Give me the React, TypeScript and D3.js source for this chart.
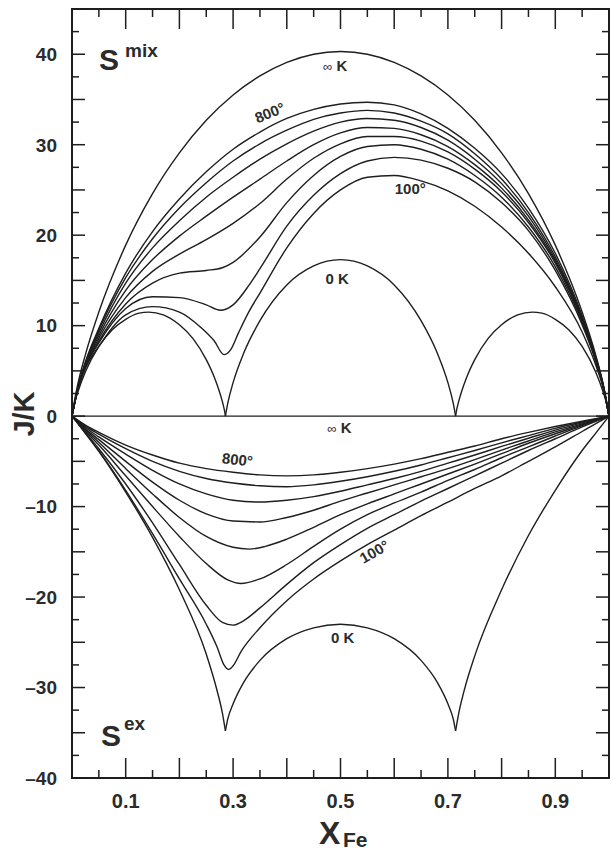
import React from "react";
import * as d3 from "d3";

type P = [number, number];

// tick labels
const xTickLabels = [0.1, 0.3, 0.5, 0.7, 0.9];
const yTickLabels = [40, 30, 20, 10, 0, -10, -20, -30, -40];

// ---------- S mix (upper panel) ----------
const mixInf: P[] = [[0,0],[0.005,1.8],[0.01,3.3],[0.025,6.8],[0.05,11.5],[0.1,18.9],[0.15,24.6],[0.2,29.1],[0.25,32.7],[0.3,35.5],[0.35,37.6],[0.4,39.1],[0.45,40.0],[0.5,40.3],[0.55,40.0],[0.6,39.1],[0.65,37.6],[0.7,35.5],[0.75,32.7],[0.8,29.1],[0.85,24.6],[0.9,18.9],[0.95,11.5],[0.975,6.8],[0.99,3.3],[0.995,1.8],[1,0]];
const mix800: P[] = [[0,0],[0.01,2.95],[0.025,6.0],[0.05,9.7],[0.1,15.8],[0.15,20.4],[0.2,24.0],[0.25,27.0],[0.3,29.5],[0.35,31.4],[0.4,32.9],[0.45,33.9],[0.5,34.5],[0.55,34.7],[0.6,34.4],[0.65,33.4],[0.7,31.8],[0.75,29.6],[0.8,26.8],[0.85,23.0],[0.9,18.0],[0.95,11.1],[0.975,6.6],[0.99,3.2],[1,0]];
const mix700: P[] = [[0,0],[0.01,2.9],[0.025,5.9],[0.05,9.5],[0.1,15.3],[0.15,19.6],[0.2,23.0],[0.25,25.8],[0.3,28.2],[0.35,30.1],[0.4,31.6],[0.45,32.8],[0.5,33.5],[0.55,33.8],[0.6,33.5],[0.65,32.6],[0.7,31.2],[0.75,29.0],[0.8,26.2],[0.85,22.5],[0.9,17.6],[0.95,10.9],[0.975,6.5],[0.99,3.2],[1,0]];
const mix600: P[] = [[0,0],[0.01,2.9],[0.025,5.8],[0.05,9.2],[0.1,14.7],[0.15,18.6],[0.2,21.6],[0.25,24.2],[0.3,26.4],[0.35,28.4],[0.4,30.1],[0.45,31.5],[0.5,32.5],[0.55,32.9],[0.6,32.7],[0.65,31.9],[0.7,30.5],[0.75,28.4],[0.8,25.7],[0.85,22.1],[0.9,17.3],[0.95,10.75],[0.975,6.4],[0.99,3.15],[1,0]];
const mix500: P[] = [[0,0],[0.01,2.85],[0.025,5.7],[0.05,8.9],[0.1,13.9],[0.15,17.3],[0.2,19.9],[0.25,22.1],[0.3,24.2],[0.35,26.2],[0.4,28.2],[0.45,30.0],[0.5,31.3],[0.55,31.9],[0.6,31.8],[0.65,31.1],[0.7,29.8],[0.75,27.8],[0.8,25.2],[0.85,21.7],[0.9,17.1],[0.95,10.65],[0.975,6.35],[0.99,3.1],[1,0]];
const mix400: P[] = [[0,0],[0.01,2.8],[0.025,5.6],[0.05,8.6],[0.1,13.1],[0.15,16.0],[0.2,17.9],[0.25,19.5],[0.3,21.3],[0.35,23.5],[0.4,26.2],[0.45,28.5],[0.5,30.1],[0.55,30.9],[0.6,30.9],[0.65,30.4],[0.7,29.2],[0.75,27.3],[0.8,24.8],[0.85,21.4],[0.9,16.9],[0.95,10.55],[0.975,6.3],[0.99,3.1],[1,0]];
const mix300: P[] = [[0,0],[0.01,2.8],[0.025,5.5],[0.05,8.3],[0.1,12.4],[0.15,14.7],[0.2,15.8],[0.25,16.1],[0.28,16.4],[0.3,17.0],[0.35,19.8],[0.4,23.6],[0.45,26.6],[0.5,28.7],[0.55,29.8],[0.6,30.0],[0.65,29.5],[0.7,28.4],[0.75,26.6],[0.8,24.2],[0.85,20.9],[0.9,16.5],[0.95,10.35],[0.975,6.2],[0.99,3.05],[1,0]];
const mix200: P[] = [[0,0],[0.01,2.75],[0.025,5.4],[0.05,8.1],[0.1,11.9],[0.15,13.2],[0.2,13.1],[0.25,12.3],[0.276,11.7],[0.3,12.3],[0.33,14.5],[0.35,16.3],[0.4,21.0],[0.45,24.4],[0.5,26.8],[0.55,28.2],[0.6,28.6],[0.65,28.3],[0.7,27.4],[0.75,25.9],[0.8,23.6],[0.85,20.5],[0.9,16.1],[0.95,10.1],[0.975,6.1],[0.99,3.0],[1,0]];
const mix100: P[] = [[0,0],[0.01,2.7],[0.025,5.3],[0.05,7.7],[0.1,11.2],[0.15,12.1],[0.2,11.5],[0.24,9.8],[0.265,8.3],[0.283,6.8],[0.295,7.3],[0.31,9.2],[0.33,11.6],[0.35,13.6],[0.4,18.6],[0.45,22.4],[0.5,25.0],[0.55,26.4],[0.6,26.6],[0.65,26.0],[0.7,24.9],[0.75,23.2],[0.8,20.9],[0.85,18.0],[0.9,14.3],[0.95,9.3],[0.975,5.7],[0.99,2.9],[1,0]];
const mix0K: P[][] = [
  [[0,0],[0.005,1.5],[0.01,2.5],[0.025,4.9],[0.05,7.7],[0.075,9.55],[0.1,10.7],[0.125,11.38],[0.143,11.5],[0.17,11.2],[0.2,10.1],[0.225,8.6],[0.25,6.25],[0.265,4.3],[0.28,1.6],[0.284,0.6],[0.2857,0]],
  [[0.2857,0],[0.29,1.4],[0.3,3.7],[0.32,7.0],[0.35,10.55],[0.4,14.5],[0.45,16.6],[0.5,17.3],[0.55,16.6],[0.6,14.5],[0.65,10.55],[0.68,7.0],[0.7,3.7],[0.71,1.4],[0.7143,0]],
  [[0.7143,0],[0.716,0.6],[0.72,1.6],[0.735,4.3],[0.75,6.25],[0.775,8.6],[0.8,10.1],[0.83,11.2],[0.857,11.5],[0.875,11.38],[0.9,10.7],[0.925,9.55],[0.95,7.7],[0.975,4.9],[0.99,2.5],[0.995,1.5],[1,0]],
];

// ---------- S ex (lower panel) ----------
const exInf: P[] = [[0,0],[1,0]];
const ex800: P[] = [[0,0],[0.01,-0.4],[0.025,-1.0],[0.05,-1.8],[0.1,-3.2],[0.15,-4.3],[0.2,-5.2],[0.25,-5.8],[0.3,-6.2],[0.35,-6.5],[0.4,-6.6],[0.45,-6.5],[0.5,-6.2],[0.55,-5.8],[0.6,-5.3],[0.65,-4.7],[0.7,-4.0],[0.75,-3.3],[0.8,-2.5],[0.85,-1.8],[0.9,-1.15],[0.95,-0.55],[1,0]];
const ex700: P[] = [[0,0],[0.01,-0.45],[0.025,-1.1],[0.05,-2.0],[0.1,-3.6],[0.15,-5.0],[0.2,-6.1],[0.25,-6.9],[0.3,-7.4],[0.35,-7.7],[0.4,-7.8],[0.45,-7.6],[0.5,-7.2],[0.55,-6.7],[0.6,-6.1],[0.65,-5.4],[0.7,-4.6],[0.75,-3.8],[0.8,-2.95],[0.85,-2.15],[0.9,-1.35],[0.95,-0.65],[1,0]];
const ex600: P[] = [[0,0],[0.01,-0.5],[0.025,-1.25],[0.05,-2.3],[0.1,-4.2],[0.15,-6.0],[0.2,-7.5],[0.25,-8.6],[0.3,-9.3],[0.35,-9.5],[0.4,-9.3],[0.45,-8.9],[0.5,-8.3],[0.55,-7.6],[0.6,-6.9],[0.65,-6.1],[0.7,-5.2],[0.75,-4.3],[0.8,-3.35],[0.85,-2.45],[0.9,-1.55],[0.95,-0.75],[1,0]];
const ex500: P[] = [[0,0],[0.01,-0.55],[0.025,-1.4],[0.05,-2.6],[0.1,-5.0],[0.15,-7.3],[0.2,-9.3],[0.25,-10.8],[0.3,-11.6],[0.35,-11.7],[0.4,-11.2],[0.45,-10.4],[0.5,-9.4],[0.55,-8.5],[0.6,-7.6],[0.65,-6.7],[0.7,-5.8],[0.75,-4.8],[0.8,-3.75],[0.85,-2.75],[0.9,-1.75],[0.95,-0.85],[1,0]];
const ex400: P[] = [[0,0],[0.01,-0.6],[0.025,-1.5],[0.05,-2.9],[0.1,-5.8],[0.15,-8.6],[0.2,-11.2],[0.25,-13.3],[0.3,-14.5],[0.33,-14.7],[0.36,-14.4],[0.4,-13.6],[0.45,-12.3],[0.5,-10.9],[0.55,-9.7],[0.6,-8.6],[0.65,-7.5],[0.7,-6.4],[0.75,-5.3],[0.8,-4.15],[0.85,-3.0],[0.9,-1.95],[0.95,-0.95],[1,0]];
const ex300: P[] = [[0,0],[0.01,-0.65],[0.025,-1.65],[0.05,-3.2],[0.1,-6.6],[0.15,-10.0],[0.2,-13.3],[0.25,-16.3],[0.29,-18.1],[0.315,-18.5],[0.35,-18.0],[0.4,-16.4],[0.45,-14.4],[0.5,-12.5],[0.55,-10.9],[0.6,-9.6],[0.65,-8.4],[0.7,-7.1],[0.75,-5.9],[0.8,-4.6],[0.85,-3.4],[0.9,-2.2],[0.95,-1.05],[1,0]];
const ex200: P[] = [[0,0],[0.01,-0.7],[0.025,-1.8],[0.05,-3.6],[0.1,-7.5],[0.15,-11.8],[0.2,-16.4],[0.25,-20.9],[0.28,-22.8],[0.3,-23.1],[0.32,-22.6],[0.35,-21.2],[0.4,-18.6],[0.45,-16.2],[0.5,-14.2],[0.55,-12.4],[0.6,-10.9],[0.65,-9.4],[0.7,-8.0],[0.75,-6.6],[0.8,-5.2],[0.85,-3.8],[0.9,-2.5],[0.95,-1.2],[1,0]];
const ex100: P[] = [[0,0],[0.01,-0.75],[0.025,-1.9],[0.05,-3.85],[0.1,-8.2],[0.15,-13.0],[0.2,-18.0],[0.25,-23.0],[0.27,-25.5],[0.283,-27.5],[0.292,-28.0],[0.3,-27.6],[0.315,-26.0],[0.35,-23.4],[0.4,-20.4],[0.45,-18.0],[0.5,-16.0],[0.55,-14.2],[0.6,-12.6],[0.65,-11.0],[0.7,-9.5],[0.75,-8.0],[0.8,-6.6],[0.85,-5.0],[0.9,-3.4],[0.95,-1.7],[1,0]];
const ex0K: P[][] = [
  [[0,0],[0.025,-1.9],[0.05,-3.9],[0.1,-8.4],[0.15,-13.4],[0.2,-19.2],[0.25,-26.3],[0.27,-30.3],[0.28,-32.8],[0.2857,-34.8]],
  [[0.2857,-34.8],[0.29,-33.5],[0.3,-31.8],[0.32,-29.4],[0.35,-27.0],[0.4,-24.6],[0.45,-23.4],[0.5,-23.0],[0.55,-23.4],[0.6,-24.6],[0.65,-27.0],[0.68,-29.4],[0.7,-31.8],[0.71,-33.5],[0.7143,-34.8]],
  [[0.7143,-34.8],[0.72,-32.9],[0.73,-30.4],[0.75,-26.5],[0.8,-19.2],[0.85,-13.2],[0.9,-8.2],[0.95,-3.8],[0.975,-1.9],[1,0]],
];

const mixSeries: P[][] = [mixInf, mix800, mix700, mix600, mix500, mix400, mix300, mix200, mix100, ...mix0K];
const exSeries: P[][] = [exInf, ex800, ex700, ex600, ex500, ex400, ex300, ex200, ex100, ...ex0K];

const W = 612;
const H = 852;

export default function App() {
  const x = d3.scaleLinear().domain([0, 1]).range([72, 609]);
  const y = d3.scaleLinear().domain([-40, 45]).range([778, 9]);
  const line = d3
    .line<P>()
    .x((d) => x(d[0]))
    .y((d) => y(d[1]))
    .curve(d3.curveMonotoneX);

  const ink = "#1e1e1e";
  const txt = "#2b2b2b";
  const font = "'Liberation Sans', Arial, Helvetica, sans-serif";

  const yTicks = d3.range(-40, 45.01, 2.5);
  const xTicks = d3.range(0.05, 0.96, 0.05);

  return (
    <svg
      width={W}
      height={H}
      viewBox={`0 0 ${W} ${H}`}
      style={{ position: "absolute", left: 0, top: 0, background: "#fff" }}
      fontFamily={font}
    >
      <rect x={0} y={0} width={W} height={H} fill="#fff" />
      {/* curves */}
      <g fill="none" stroke={ink} strokeWidth={1.4}>
        {mixSeries.map((s, i) => (
          <path key={"m" + i} d={line(s) || ""} />
        ))}
        {exSeries.map((s, i) => (
          <path key={"e" + i} d={line(s) || ""} />
        ))}
      </g>

      {/* frame */}
      <rect
        x={x(0)}
        y={y(45)}
        width={x(1) - x(0)}
        height={y(-40) - y(45)}
        fill="none"
        stroke={ink}
        strokeWidth={2}
      />

      {/* ticks */}
      <g stroke={ink} strokeWidth={1.5}>
        {yTicks.map((v) => {
          const major = Math.abs(v % 5) < 1e-6;
          const len = major ? 13 : 7;
          return (
            <g key={"yt" + v}>
              <line x1={x(0)} x2={x(0) + len} y1={y(v)} y2={y(v)} />
              <line x1={x(1)} x2={x(1) - len} y1={y(v)} y2={y(v)} />
            </g>
          );
        })}
        {xTicks.map((v) => {
          const major = Math.abs(Math.round(v * 10) - v * 10) < 1e-6;
          const len = major ? 20 : 8;
          return (
            <g key={"xt" + v}>
              <line x1={x(v)} x2={x(v)} y1={y(-40)} y2={y(-40) - len} />
              <line x1={x(v)} x2={x(v)} y1={y(45)} y2={y(45) + len} />
            </g>
          );
        })}
      </g>

      {/* y tick labels */}
      <g fill={txt} fontWeight="bold" fontSize={19} textAnchor="end">
        {yTickLabels.map((v) => (
          <text key={"yl" + v} x={57} y={y(v)} dy="0.36em">
            {v < 0 ? "\u2013" + Math.abs(v) : String(v)}
          </text>
        ))}
      </g>
      {/* x tick labels */}
      <g fill={txt} fontWeight="bold" fontSize={20} textAnchor="middle">
        {xTickLabels.map((v) => (
          <text key={"xl" + v} x={x(v)} y={808}>
            {v.toFixed(1)}
          </text>
        ))}
      </g>

      {/* axis titles */}
      <text
        transform={`translate(34, 414) rotate(-90)`}
        textAnchor="middle"
        fontWeight="bold"
        fontSize={29}
        fill={txt}
      >
        J/K
      </text>
      <text x={319} y={844} fontWeight="bold" fontSize={32} fill={txt}>
        X
      </text>
      <text x={343} y={847} fontWeight="bold" fontSize={21} fill={txt}>
        Fe
      </text>

      {/* panel labels */}
      <text x={99} y={70} fontWeight="bold" fontSize={30} fill={txt}>
        S
      </text>
      <text x={125} y={57} fontWeight="bold" fontSize={19} fill={txt}>
        mix
      </text>
      <text x={101} y={746} fontWeight="bold" fontSize={30} fill={txt}>
        S
      </text>
      <text x={124} y={730} fontWeight="bold" fontSize={19} fill={txt}>
        ex
      </text>

      {/* curve labels */}
      <g fill={txt} fontWeight="bold" fontSize={15}>
        <text x={x(0.49)} y={y(38.2)} textAnchor="middle">
          <tspan fontWeight="normal" fontSize={13}>∞</tspan> K
        </text>
        <text
          transform={`translate(${x(0.372)}, ${y(33.0)}) rotate(-22)`}
          textAnchor="middle"
        >
          800°
        </text>
        <text x={x(0.63)} y={y(24.5)} textAnchor="middle">
          100°
        </text>
        <text x={x(0.494)} y={y(14.6)} textAnchor="middle">
          0 K
        </text>
        <text x={x(0.498)} y={y(-1.9)} textAnchor="middle">
          <tspan fontWeight="normal" fontSize={13}>∞</tspan> K
        </text>
        <text
          transform={`translate(${x(0.307)}, ${y(-5.4)}) rotate(6)`}
          textAnchor="middle"
        >
          800°
        </text>
        <text
          transform={`translate(${x(0.568)}, ${y(-15.5)}) rotate(-30)`}
          textAnchor="middle"
        >
          100°
        </text>
        <text x={x(0.504)} y={y(-25.1)} textAnchor="middle">
          0 K
        </text>
      </g>
    </svg>
  );
}
